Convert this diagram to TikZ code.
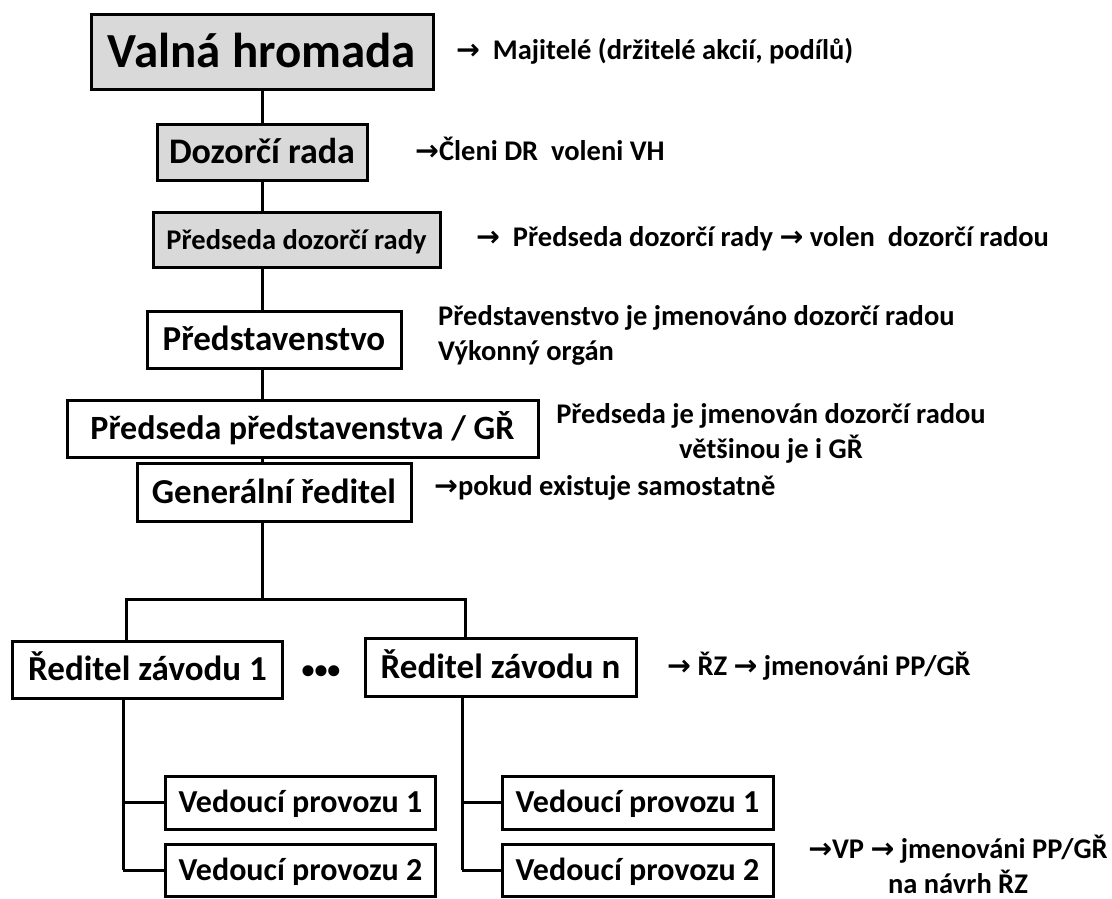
\documentclass[tikz,border=0pt]{standalone}
\usepackage{fontspec}
\setmainfont{Carlito}
\newfontfamily\arrowfont{DejaVu Sans}
\newcommand{\ra}{{\arrowfont\symbol{"2192}}}
\newcommand{\fs}[1]{\fontsize{#1}{35}\selectfont}
\definecolor{boxgray}{RGB}{217,217,217}
\usetikzlibrary{positioning}

\begin{document}
\begin{tikzpicture}[x=1pt,y=-1pt,
  orgfont/.style={font=\bfseries\fs{#1},text height=#1pt*0.9,text depth=#1pt*0.256},
  orgbox/.style={draw,line width=3pt,inner sep=0pt,minimum height=56pt,orgfont=35},
  topbox/.style={orgbox,fill=boxgray},
  note/.style={anchor=base west,inner sep=0pt,font=\bfseries\fs{28.5},align=left},
  link/.style={line width=3pt}]
\useasboundingbox (0,0) rectangle (1112,898);
% organs
\node[topbox,minimum width=342pt,minimum height=75pt,orgfont=49] (vh) at (262,51.5) {Valná hromada};
\node[topbox,minimum width=210pt,orgfont=36] (dr) at (262,152) {Dozorčí rada};
\node[topbox,minimum width=287pt,minimum height=55pt,orgfont=28.5] (pdr) at (296.5,240) {Předseda dozorčí rady};
\node[orgbox,minimum width=254pt,minimum height=57pt] (pst) at (274,339.5) {Představenstvo};
\node[orgbox,minimum width=471pt,minimum height=57pt,orgfont=34] (ppg) at (302.5,428.5) {Předseda představenstva / GŘ};
\node[orgbox,minimum width=274pt,minimum height=58pt] (gr) at (274,492) {Generální ředitel};
% plants
\node[orgbox,minimum width=270pt,minimum height=57pt] (rz1) at (147.5,669.5) {Ředitel závodu 1};
\node[orgbox,minimum width=271pt,minimum height=58pt] (rzn) at (500.5,667) {Ředitel závodu n};
\node[font=\bfseries\fs{26},inner sep=0pt] (dots) at (321,672) {•••};
\node[orgbox,minimum width=270pt,minimum height=53pt,orgfont=32] (vp11) at (300.5,802.5) {Vedoucí provozu 1};
\node[orgbox,minimum width=270pt,minimum height=52pt,orgfont=32] (vp12) at (300.5,870) {Vedoucí provozu 2};
\node[orgbox,minimum width=271pt,minimum height=53pt,orgfont=32] (vpn1) at (637.5,802.5) {Vedoucí provozu 1};
\node[orgbox,minimum width=271pt,minimum height=52pt,orgfont=32] (vpn2) at (637.5,870) {Vedoucí provozu 2};
% notes
\node[note] (n1) at (456,59) {\ra\ \ Majitelé (držitelé akcií, podílů)};
\node[note] (n2) at (415,160) {\ra Členi DR\ \ voleni VH};
\node[note] (n3) at (476,246) {\ra\ \ Předseda dozorčí rady \ra\ volen\ \ dozorčí radou};
\node[note] (n4) at (438,360) {Představenstvo je jmenováno dozorčí radou\\Výkonný orgán};
\node[note,align=center,anchor=base] (n5) at (771,458) {Předseda je jmenován dozorčí radou\\většinou je i GŘ};
\node[note] (n6) at (434,495) {\ra pokud existuje samostatně};
\node[note] (n7) at (667,675) {\ra\ ŘZ \ra\ jmenováni PP/GŘ};
\node[note,align=center,anchor=base] (n8) at (958,893) {\ra VP \ra\ jmenováni PP/GŘ\\na návrh ŘZ};
% links
\coordinate (forkl) at (126,599);
\coordinate (forkm) at (262,599);
\coordinate (forkr) at (465,599);
\coordinate (subl) at (123,0);
\coordinate (subr) at (462,0);
\draw[link] (vh) -- (dr);
\draw[link] (dr.south) -- (dr.south |- pdr.north);
\draw[link] (dr.south |- pdr.south) -- (dr.south |- pst.north);
\draw[link] (dr.south |- pst.south) -- (dr.south |- ppg.north);
\draw[link] (dr.south |- ppg.south) -- (dr.south |- gr.north);
\draw[link] (dr.south |- gr.south) -- (forkm);
\draw[link] (forkl |- rz1.north) -- (forkl) -- (forkr) -- (forkr |- rzn.north);
\draw[link] (subl |- rz1.south) -- (subl |- vp12.west);
\draw[link] (subr |- rzn.south) -- (subr |- vpn2.west);
\foreach \v in {vp11,vp12}{\draw[link] (subl |- \v.west) -- (\v.west);}
\foreach \v in {vpn1,vpn2}{\draw[link] (subr |- \v.west) -- (\v.west);}
\end{tikzpicture}
\end{document}
